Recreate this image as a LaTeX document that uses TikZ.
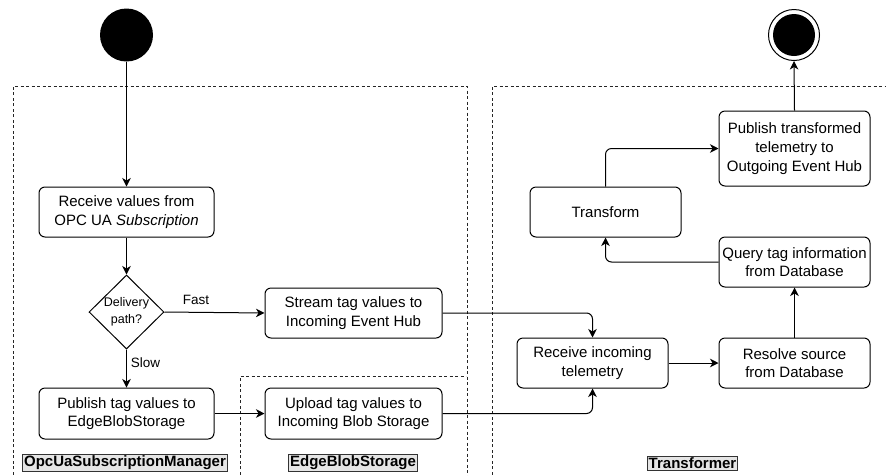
\documentclass[tikz,border=0pt]{standalone}
\usepackage{fontspec}
\setmainfont{Liberation Sans}
\usetikzlibrary{shapes.geometric,arrows.meta}
\begin{document}
\begin{tikzpicture}[x=1pt,y=-1pt,
  box/.style={draw,line width=1pt,rounded corners=6pt,align=center,inner sep=0pt,
    font=\fontsize{15}{18.7}\selectfont},
  dia/.style={draw,line width=1pt,diamond,inner sep=0pt,align=center,
    minimum width=75pt,minimum height=74pt,font=\fontsize{12.5}{17}\selectfont},
  lane/.style={draw,line width=0.9pt,dash pattern=on 3pt off 2.5pt,black!85},
  lanelabel/.style={draw=black!80,fill=black!10,line width=0.8pt,inner sep=1.5pt,
    font=\fontsize{15}{18}\selectfont\bfseries},
  conn/.style={line width=1pt,rounded corners=6pt,-{Stealth[length=8.5pt,width=8.5pt,inset=2.5pt]}},
  elabel/.style={font=\fontsize{13.5}{16}\selectfont,inner sep=0pt}]
\useasboundingbox (0,0) rectangle (886,475);
\clip (0,0) rectangle (886,475);
% lanes
\draw[lane] (13,480) -- (13,86) -- (467,86) -- (467,480);
\draw[lane] (240,480) -- (240,376) -- (466,376);
\draw[lane] (492,480) -- (492,86) -- (890,86);
\node[lanelabel] (lbl1) at (125,463) {OpcUaSubscriptionManager};
\node[lanelabel] (lbl2) at (353,463) {EdgeBlobStorage};
\node[lanelabel] (lbl3) at (692.5,463.5) {Transformer};
% start / end
\node[circle,fill=black,minimum size=53pt,inner sep=0pt] (start) at (126.5,35) {};
\node[circle,draw,line width=1pt,minimum size=51pt,inner sep=0pt] (end) at (794,35) {};
\node[circle,fill=black,minimum size=42pt,inner sep=0pt] (endin) at (794,35) {};
% nodes
\node[box,minimum width=175pt,minimum height=50pt] (recv) at (126.5,212) {Receive values from\\OPC UA \textit{Subscription}};
\node[dia] (path) at (126.5,312) {Delivery\\path?};
\node[box,minimum width=177pt,minimum height=50pt] (stream) at (353.5,313) {Stream tag values to\\Incoming Event Hub};
\node[box,minimum width=175pt,minimum height=51pt] (pub) at (126.5,413.5) {Publish tag values to\\EdgeBlobStorage};
\node[box,minimum width=177pt,minimum height=51pt] (upload) at (353.5,413.5) {Upload tag values to\\Incoming Blob Storage};
\node[box,minimum width=151pt,minimum height=50pt] (rin) at (592.5,363) {Receive incoming\\telemetry};
\node[box,minimum width=151pt,minimum height=50pt] (resolve) at (794.5,363) {Resolve source\\from Database};
\node[box,minimum width=151pt,minimum height=50pt] (query) at (794.5,262) {Query tag information\\from Database};
\node[box,minimum width=151pt,minimum height=50pt] (transform) at (605.5,212) {Transform};
\node[box,minimum width=151pt,minimum height=75pt] (pubt) at (794.5,148.5) {Publish transformed\\telemetry to\\Outgoing Event Hub};
% edges
\draw[conn] (start.south) -- (recv.north);
\draw[conn] (recv.south) -- (path.north);
\draw[conn] (path.east) -- (stream.west);
\node[elabel] (fast) at (196,300) {Fast};
\draw[conn] (path.south) -- (pub.north);
\node[elabel] (slow) at (145.5,363) {Slow};
\draw[conn] (pub.east) -- (upload.west);
\draw[conn] (stream.east) -| (rin.north);
\draw[conn] (upload.east) -| (rin.south);
\draw[conn] (rin.east) -- (resolve.west);
\draw[conn] (resolve.north) -- (query.south);
\draw[conn] (query.west) -| (transform.south);
\draw[conn] (transform.north) |- (pubt.west);
\draw[conn] (pubt.north) -- (end.south);
\end{tikzpicture}
\end{document}
